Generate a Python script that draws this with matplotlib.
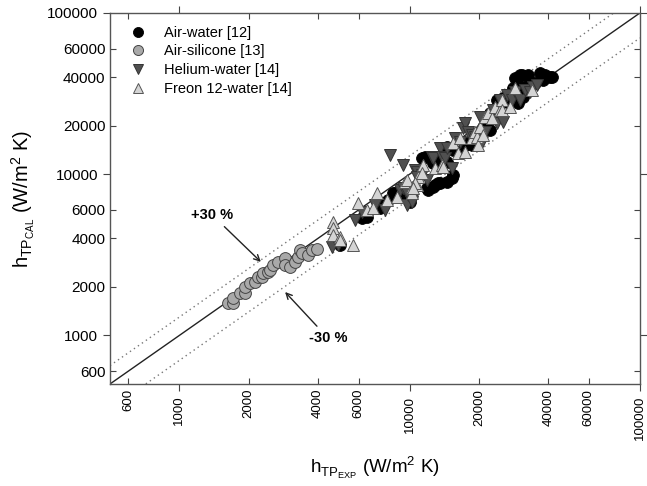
import numpy as np
import matplotlib.pyplot as plt
from matplotlib.ticker import FixedLocator, FuncFormatter

plt.rcParams['font.family'] = ['Liberation Sans', 'DejaVu Sans']

# Air-silicone [13]
sil_x = [1630, 1710, 1710, 1830, 1930, 1930, 2030, 2130, 2200, 2290, 2310, 2430, 2480,
         2550, 2680, 2880, 2880, 3020, 3180, 3280, 3340, 3410, 3620, 3760, 3960]
sil_y = [1590, 1590, 1710, 1830, 1830, 2000, 2120, 2150, 2310, 2310, 2440, 2480, 2550,
         2740, 2860, 3020, 2740, 2660, 2860, 3070, 3390, 3250, 3160, 3390, 3440]

# Helium-water [14]
he_x = [4600, 4890, 5790, 6210, 7080, 7820, 8220, 9360, 9080, 9740, 9840, 10240, 10550,
        10770, 11320, 9360, 9740, 10240, 10770, 11900, 12510, 12630, 13550, 13820, 14240,
        14530, 15280, 15740, 16550, 17050, 17390, 17920, 18660, 19230, 20210, 20620, 21250,
        23010, 23960, 25440, 24690, 26470, 27840, 28680, 30150, 31700, 33320, 34340, 35750]
he_y = [3540, 3640, 5200, 5830, 6450, 6000, 13170, 11410, 7990, 6450, 7440, 6920, 10630,
        10330, 9890, 8220, 7650, 6730, 9620, 9210, 12800, 12620, 14550, 12800, 12620,
        14550, 10940, 16790, 15850, 19360, 20800, 18290, 17520, 17030, 22660, 15850, 18290,
        25030, 20800, 21100, 28880, 31020, 28880, 32370, 28880, 33320, 32370, 34780, 35790]

# Freon 12-water [14]
fr_x = [4650, 4650, 4650, 4990, 4990, 5680, 5970, 6530, 6940, 7220, 7970, 8810, 9550,
        10240, 10770, 10240, 10870, 11430, 9740, 10550, 11320, 10340, 12890, 13820, 13960,
        15430, 16220, 16550, 17390, 18660, 19230, 19610, 19810, 20210, 20830, 21250, 21890,
        22790, 23490, 24690, 25190, 25190, 27290, 28680, 34000]
fr_y = [5060, 4640, 4200, 4080, 3910, 3640, 6630, 6000, 6180, 7650, 6920, 7230, 8950,
        8340, 8580, 7650, 9620, 11410, 9210, 8830, 10180, 8220, 10940, 11410, 11100,
        15630, 13550, 16790, 13750, 16790, 18290, 17030, 15190, 19640, 17520, 22660, 23990,
        22340, 26140, 25030, 28880, 25030, 26140, 34280, 33320]

# Air-water [12]
aw_x = [4990, 6210, 6530, 7440, 7660, 8060, 8470, 8640, 9080, 9270, 9740, 10040, 11320,
        11660, 11900, 12020, 12630, 12890, 13280, 13550, 14530, 15280, 15430, 12630, 13550,
        14530, 15430, 16220, 14530, 17390, 17750, 18660, 19610, 20830, 20830, 22340, 22340,
        23960, 23960, 25440, 26470, 27290, 28110, 29550, 29550, 31070, 29550, 28680, 30150,
        30760, 32660, 33320, 35040, 36830, 37950, 38710, 40700, 41520, 31700, 28110]
aw_y = [3640, 5350, 5430, 6180, 6630, 6920, 7650, 7650, 7990, 7990, 7130, 6730, 12620,
        12800, 8220, 7990, 8340, 8580, 8830, 8830, 8950, 9480, 9890, 11750, 12260,
        11920, 14140, 13750, 14760, 15190, 15630, 15190, 16310, 19640, 18820, 18820, 23990,
        22340, 28880, 29720, 28070, 30150, 33320, 31920, 27670, 30150, 35790, 39560, 41290,
        41290, 41290, 37360, 36830, 42480, 38440, 41290, 40130, 40130, 34780, 34280]

major_ticks = [1000, 10000, 100000]
minor_ticks = [600, 2000, 4000, 6000, 20000, 40000, 60000]

fig = plt.figure(figsize=(6.47, 4.86), dpi=100)
ax = fig.add_axes([0.170, 0.2099, 0.819, 0.7634])
ax.set_xscale('log')
ax.set_yscale('log')
lims = np.array([500, 100000])
ax.set_xlim(lims)
ax.set_ylim(lims)

ax.plot(lims, lims, color='#222222', lw=1.0, zorder=1)
ax.plot(lims, 1.3 * lims, color='#777777', lw=1.0, ls=(0, (1, 2.5)), zorder=1)
ax.plot(lims, 0.7 * lims, color='#777777', lw=1.0, ls=(0, (1, 2.5)), zorder=1)

ms = 8.5
ax.plot(aw_x, aw_y, 'o', ms=ms, mfc='black', mec='black', mew=0.6, label='Air-water [12]', zorder=3)
ax.plot(sil_x, sil_y, 'o', ms=ms, mfc='#a9a9a9', mec='#444444', mew=0.7, label='Air-silicone [13]', zorder=3)
ax.plot(he_x, he_y, 'v', ms=ms, mfc='#505050', mec='#333333', mew=0.7, label='Helium-water [14]', zorder=3)
ax.plot(fr_x, fr_y, '^', ms=ms, mfc='#d4d4d4', mec='#555555', mew=0.7, label='Freon 12-water [14]', zorder=3)

leg = ax.legend(loc='upper left', bbox_to_anchor=(0.012, 0.993), frameon=False, fontsize=10.5,
                handlelength=1.6, handletextpad=0.95, labelspacing=0.32, borderaxespad=0.3,
                markerscale=0.85)

ax.annotate('+30 %', xy=(2260, 2860), xytext=(1390, 5590), ha='center', va='center',
            fontsize=10.5, fontweight='bold',
            arrowprops=dict(arrowstyle='->', lw=1.0, color='#222222', shrinkA=2, shrinkB=0))
ax.annotate('-30 %', xy=(2880, 1860), xytext=(4420, 964), ha='center', va='center',
            fontsize=10.5, fontweight='bold',
            arrowprops=dict(arrowstyle='->', lw=1.0, color='#222222', shrinkA=2, shrinkB=0))

fmt = FuncFormatter(lambda v, p: '%d' % round(v))
for axis in (ax.xaxis, ax.yaxis):
    axis.set_major_locator(FixedLocator(major_ticks))
    axis.set_minor_locator(FixedLocator(minor_ticks))
    axis.set_major_formatter(fmt)
    axis.set_minor_formatter(fmt)

ax.tick_params(which='major', direction='out', length=5, width=0.8, color='#444444',
               top=True, right=True)
ax.tick_params(which='minor', direction='in', length=4, width=0.8, color='#444444',
               top=True, right=True)
ax.tick_params(axis='x', which='both', labelrotation=90, labelsize=9.5)
ax.tick_params(axis='y', which='both', labelsize=11)

for s in ax.spines.values():
    s.set_color('#555555')
    s.set_linewidth(1.0)

ax.set_xlabel('h$_{\\mathregular{TP_{EXP}}}$ (W/m$^{\\mathregular{2}}$ K)', fontsize=13.5)
ax.set_ylabel('h$_{\\mathregular{TP_{CAL}}}$ (W/m$^{\\mathregular{2}}$ K)', fontsize=14.5)
ax.xaxis.set_label_coords(0.5, -0.19)
ax.yaxis.set_label_coords(-0.138, 0.5)

fig.savefig('out.png', dpi=100)
